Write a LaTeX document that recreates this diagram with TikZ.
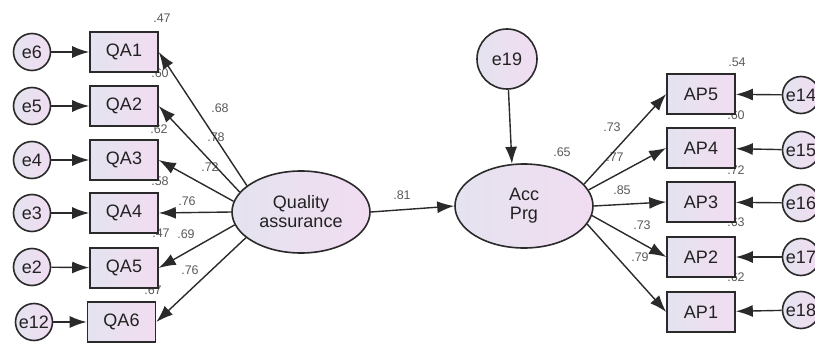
\documentclass[tikz,border=0pt]{standalone}
\usepackage{fontspec}
\setmainfont{Liberation Sans}
\usetikzlibrary{shapes.geometric,arrows.meta}

\begin{document}
\begin{tikzpicture}[x=1pt,y=-1pt]
\definecolor{cline}{HTML}{2A2A2A}\definecolor{ctext}{HTML}{222222}\definecolor{cnum}{HTML}{5A5A5A}
\definecolor{cfilll}{HTML}{E4E3EF}\definecolor{cfillr}{HTML}{F1DCF1}
\tikzset{latent/.style={ellipse,draw=cline,line width=1.6pt,left color=cfilll,right color=cfillr,minimum width=138pt,minimum height=82pt,inner sep=0pt,align=center,text=ctext,font=\fontsize{18}{19}\selectfont},
 indic/.style={rectangle,draw=cline,line width=1.6pt,left color=cfilll,right color=cfillr,minimum width=68pt,minimum height=40pt,inner sep=0pt,text=ctext,font=\fontsize{18}{19}\selectfont},
 err/.style={circle,draw=cline,line width=1.6pt,left color=cfilll,right color=cfillr,minimum size=37pt,inner sep=0pt,text=ctext,font=\fontsize{18}{19}\selectfont},
 link/.style={draw=cline,line width=1.4pt,-{Latex[length=17pt,width=12pt]}},
 num/.style={font=\fontsize{12.5}{13}\selectfont,text=cnum,inner sep=0pt}}
\useasboundingbox (0,0) rectangle (815,345);
% numbers (behind the boxes)
\node[num] (r1) at (162,18) {.47};
\node[num] (r2) at (160,73) {.60};
\node[num] (r3) at (159,129) {.62};
\node[num] (r4) at (160,181) {.58};
\node[num] (r5) at (161,233) {.47};
\node[num] (r6) at (153,290) {.67};
\node[num] (l1) at (220,108) {.68};
\node[num] (l2) at (216,137) {.78};
\node[num] (l3) at (210,167) {.72};
\node[num] (l4) at (187,201) {.76};
\node[num] (l5) at (186,234) {.69};
\node[num] (l6) at (190,270) {.76};
\node[num] (b1) at (402,195) {.81};
\node[num] (r0) at (562,152) {.65};
\node[num] (s5) at (737,62) {.54};
\node[num] (s4) at (736,115) {.60};
\node[num] (s3) at (736,170) {.72};
\node[num] (s2) at (736,222) {.63};
\node[num] (s1) at (736,277) {.62};
\node[num] (m5) at (612,127) {.73};
\node[num] (m4) at (615,157) {.77};
\node[num] (m3) at (622,190) {.85};
\node[num] (m2) at (642,225) {.73};
\node[num] (m1) at (640,257) {.79};
% latent variables
\node[latent] (qa) at (301,212) {Quality\\assurance};
\node[latent,minimum height=84pt] (acc) at (524,206) {Acc\\Prg};
\node[err,minimum size=60pt] (e19) at (507,59) {e19};
% indicators
\node[indic] (qa1) at (124,52) {QA1};
\node[indic] (qa2) at (124,106) {QA2};
\node[indic] (qa3) at (124,160) {QA3};
\node[indic] (qa4) at (124,213) {QA4};
\node[indic] (qa5) at (124,268) {QA5};
\node[indic] (qa6) at (121.5,322) {QA6};
\node[indic] (ap5) at (701,94) {AP5};
\node[indic] (ap4) at (701,148) {AP4};
\node[indic] (ap3) at (701,202) {AP3};
\node[indic] (ap2) at (701,257) {AP2};
\node[indic] (ap1) at (701,312) {AP1};
% errors
\node[err] (e6) at (32,52) {e6};
\node[err] (e5) at (32,106) {e5};
\node[err] (e4) at (32,160) {e4};
\node[err] (e3) at (32,213) {e3};
\node[err] (e2) at (32,267) {e2};
\node[err] (e12) at (34,322) {e12};
\node[err] (e14) at (801,95) {e14};
\node[err] (e15) at (801,150) {e15};
\node[err] (e16) at (801,203) {e16};
\node[err] (e17) at (801,257) {e17};
\node[err] (e18) at (801,310) {e18};
% paths
\foreach \e/\b in {e6/qa1,e5/qa2,e4/qa3,e3/qa4,e2/qa5,e12/qa6,e14/ap5,e15/ap4,e16/ap3,e17/ap2,e18/ap1}
  \draw[link] (\e) -- (\b);
\foreach \a/\b in {154/qa1,162/qa2,171/qa3,180/qa4,191/qa5,205/qa6}
  \draw[link] (qa.\a) -- (\b.east);
\foreach \a/\b in {20/ap5,14/ap4,0/ap3,-8/ap2,-16/ap1}
  \draw[link] (acc.\a) -- (\b.west);
\draw[link] (qa.east) -- (acc.west);
\draw[link] (e19) -- (acc.106);
\end{tikzpicture}
\end{document}
